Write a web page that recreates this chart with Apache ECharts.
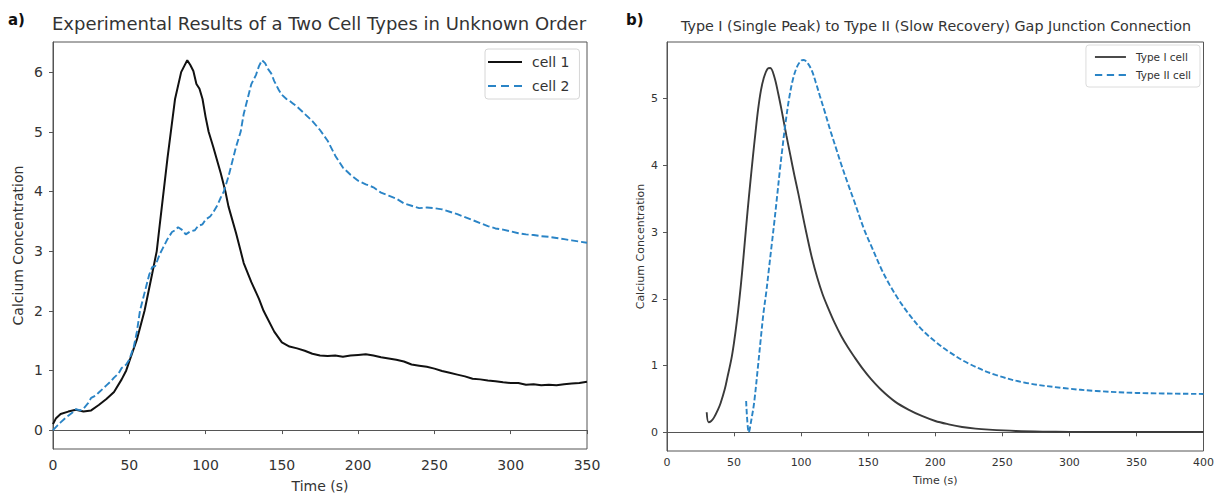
<!DOCTYPE html>
<html>
<head>
<meta charset="utf-8">
<script src="https://cdn.jsdelivr.net/npm/echarts@6/dist/echarts.min.js"></script>
<style>
html,body{margin:0;padding:0;background:#fff;}
#chart{width:1217px;height:498px;}
</style>
</head>
<body>
<div id="chart"></div>
<script>
// ---------- Panel a: experimental data ----------
var timeCell1 = [0,2,5,10,15,20,25,30,35,40,45,48,50,55,60,65,68,70,75,80,84,86,88,90,92,94,96,98,100,102,105,110,113,115,120,123,125,130,135,138,140,145,150,155,160,165,170,175,180,185,190,195,200,205,210,215,220,225,230,235,240,245,250,255,260,265,270,275,280,285,290,295,300,305,310,315,320,325,330,335,340,345,350];
var cell1 = [0.10,0.20,0.27,0.31,0.34,0.31,0.33,0.42,0.52,0.64,0.85,1.00,1.15,1.52,2.00,2.62,3.00,3.45,4.55,5.55,6.00,6.10,6.20,6.12,6.02,5.80,5.72,5.55,5.25,5.00,4.75,4.30,4.00,3.75,3.30,3.00,2.80,2.48,2.20,2.00,1.90,1.65,1.47,1.40,1.37,1.33,1.28,1.25,1.24,1.25,1.23,1.25,1.26,1.27,1.25,1.22,1.20,1.18,1.15,1.10,1.08,1.06,1.03,0.99,0.96,0.93,0.90,0.86,0.85,0.83,0.82,0.80,0.79,0.79,0.76,0.77,0.75,0.76,0.75,0.77,0.78,0.79,0.81];
var timeCell2 = [0,3,5,8,10,13,15,18,20,23,25,28,30,33,35,38,40,43,45,48,50,53,55,57,60,63,65,67,70,72,75,78,80,82,85,87,90,93,95,98,100,103,105,108,110,112,115,118,120,123,125,128,130,133,135,137,139,141,143,145,148,150,153,155,157,160,165,170,175,180,185,190,195,200,205,210,215,220,225,230,235,240,245,250,255,260,265,270,275,280,285,290,295,300,305,310,315,320,325,330,335,340,345,350];
var cell2 = [0.00,0.08,0.13,0.20,0.24,0.30,0.35,0.33,0.36,0.45,0.54,0.58,0.63,0.70,0.75,0.82,0.88,0.95,1.04,1.10,1.18,1.40,1.65,2.00,2.30,2.60,2.73,2.75,2.95,3.05,3.20,3.32,3.35,3.40,3.35,3.28,3.33,3.35,3.42,3.45,3.53,3.58,3.65,3.78,3.90,4.00,4.25,4.55,4.75,5.00,5.30,5.60,5.80,5.95,6.10,6.20,6.15,6.05,5.98,5.85,5.70,5.62,5.55,5.52,5.48,5.42,5.30,5.18,5.03,4.85,4.60,4.40,4.28,4.18,4.12,4.07,3.98,3.93,3.88,3.80,3.76,3.72,3.73,3.72,3.70,3.66,3.62,3.57,3.52,3.47,3.42,3.38,3.36,3.33,3.30,3.28,3.27,3.25,3.24,3.22,3.20,3.18,3.16,3.14];

// ---------- Panel b: model ----------
var timeType1 = [29.6,31,33,35,38,40,43,45,48,50,52,54,56,58,60,62,64,66,68,70,72,75,77,80,83,86,89,92,95,98,101,104,108,112,116,120,125,130,135,140,146,152,160,170,180,190,200,210,220,230,240,260,280,300,330,360,400];
var type1 = [0.30,0.15,0.17,0.22,0.34,0.44,0.64,0.82,1.10,1.35,1.65,2.00,2.40,2.85,3.30,3.72,4.12,4.50,4.85,5.12,5.30,5.45,5.46,5.33,5.07,4.77,4.45,4.15,3.85,3.57,3.27,2.98,2.62,2.32,2.07,1.87,1.64,1.44,1.27,1.12,0.95,0.80,0.63,0.46,0.34,0.245,0.17,0.12,0.08,0.055,0.04,0.02,0.01,0.006,0.004,0.004,0.006];
var timeType2 = [59,61,63,65,68,70,72,74,76,78,80,82,84,86,88,91,94,97,100,102,105,108,111,114,118,122,126,130,135,140,147,153,160,166,172,180,190,200,210,225,245,268,297,320,350,400];
var type2 = [0.47,0.00,0.20,0.45,1.02,1.42,1.80,2.10,2.45,2.80,3.15,3.52,3.90,4.25,4.58,5.00,5.30,5.48,5.57,5.58,5.53,5.42,5.24,5.04,4.78,4.51,4.26,4.01,3.72,3.44,3.04,2.76,2.44,2.21,2.01,1.78,1.54,1.36,1.21,1.03,0.86,0.74,0.66,0.62,0.59,0.575];

// ---------- ticks / labels ----------
var xTicksA = [0,50,100,150,200,250,300,350];
var yTicksA = [0,1,2,3,4,5,6];
var xTicksB = [0,50,100,150,200,250,300,350,400];
var yTicksB = [0,1,2,3,4,5];
var titleA = 'Experimental Results of a Two Cell Types in Unknown Order';
var titleB = 'Type I (Single Peak) to Type II (Slow Recovery) Gap Junction Connection';
var namesA = ['cell 1','cell 2'];
var namesB = ['Type I cell','Type II cell'];

function pairs(t, v){ return t.map(function(x,i){ return [x, v[i]]; }); }

var FONT = 'DejaVu Sans';
var AX = '#555555';
var TXT = '#333333';
var BLUE = '#2a84c6';
var BLACK = '#111111';
var GRAY = '#3a3a3a';
var SOLID = 'path://M0,0h34v2h-34z';
var DASHED = 'path://M0,0h8v2h-8zM13,0h8v2h-8zM26,0h8v2h-8z';

function xAxisCfg(idx, max, fs, gap, margin){
  return {
    type:'value', gridIndex:idx, min:0, max:max, interval:50,
    name:'Time (s)', nameLocation:'middle', nameGap:gap,
    nameTextStyle:{color:TXT, fontFamily:FONT, fontSize:fs},
    axisLine:{show:true, lineStyle:{color:AX, width:1}},
    axisTick:{show:true, inside:false, length:4, lineStyle:{color:AX}},
    axisLabel:{color:TXT, fontFamily:FONT, fontSize:fs, margin:margin},
    splitLine:{show:false}
  };
}
function yAxisCfg(idx, min, max, ticks, fs, gap, margin){
  return {
    type:'value', gridIndex:idx, min:min, max:max,
    name:'Calcium Concentration', nameLocation:'middle', nameGap:gap,
    nameTextStyle:{color:TXT, fontFamily:FONT, fontSize:fs},
    axisLine:{show:true, lineStyle:{color:AX, width:1}},
    axisTick:{show:true, inside:false, length:4, lineStyle:{color:AX}, customValues:ticks},
    axisLabel:{color:TXT, fontFamily:FONT, fontSize:fs, margin:margin, customValues:ticks},
    splitLine:{show:false}
  };
}

var chart = echarts.init(document.getElementById('chart'), null, {renderer:'svg'});
chart.setOption({
  backgroundColor:'#ffffff',
  animation:false,
  grid:[
    {left:53, top:42, width:534, height:409, show:true, borderColor:AX, borderWidth:1, backgroundColor:'transparent'},
    {left:667, top:42, width:538, height:409, show:true, borderColor:AX, borderWidth:1, backgroundColor:'transparent'}
  ],
  xAxis:[ xAxisCfg(0, 350, 14, 30, 9), xAxisCfg(1, 400, 11, 24, 6) ],
  yAxis:[ yAxisCfg(0, -0.317, 6.505, yTicksA, 14, 28, 10), yAxisCfg(1, -0.28, 5.85, yTicksB, 11, 21, 9) ],
  legend:[
    {
      data:[
        {name:namesA[0], icon:SOLID, itemStyle:{color:BLACK, borderWidth:0}},
        {name:namesA[1], icon:DASHED, itemStyle:{color:BLUE, borderWidth:0}}
      ],
      orient:'vertical', left:485, top:49,
      itemWidth:34, itemHeight:2, itemGap:8, padding:[5,10,5,3],
      borderColor:'#d6d6d6', borderWidth:1, borderRadius:3, backgroundColor:'#fff',
      textStyle:{color:TXT, fontFamily:FONT, fontSize:14, padding:[0,0,0,5], lineHeight:16},
      selectedMode:false
    },
    {
      data:[
        {name:namesB[0], icon:SOLID, itemStyle:{color:GRAY, borderWidth:0}},
        {name:namesB[1], icon:DASHED, itemStyle:{color:BLUE, borderWidth:0}}
      ],
      orient:'vertical', right:17, top:45,
      itemWidth:31, itemHeight:2, itemGap:6, padding:[6,9,6,9],
      borderColor:'#dcdcdc', borderWidth:1, borderRadius:3, backgroundColor:'#fff',
      textStyle:{color:TXT, fontFamily:FONT, fontSize:10.5, padding:[0,0,0,5], lineHeight:12},
      selectedMode:false
    }
  ],
  series:[
    {name:namesA[0], type:'line', xAxisIndex:0, yAxisIndex:0, data:pairs(timeCell1, cell1),
     showSymbol:false, symbol:'none', lineStyle:{color:BLACK, width:2}, itemStyle:{color:BLACK}},
    {name:namesA[1], type:'line', xAxisIndex:0, yAxisIndex:0, data:pairs(timeCell2, cell2),
     showSymbol:false, symbol:'none', lineStyle:{color:BLUE, width:1.9, type:[7,3]}, itemStyle:{color:BLUE}},
    {name:namesB[0], type:'line', xAxisIndex:1, yAxisIndex:1, data:pairs(timeType1, type1), smooth:0.35,
     showSymbol:false, symbol:'none', lineStyle:{color:GRAY, width:1.9}, itemStyle:{color:GRAY}},
    {name:namesB[1], type:'line', xAxisIndex:1, yAxisIndex:1, data:pairs(timeType2, type2), smooth:0.35,
     showSymbol:false, symbol:'none', lineStyle:{color:BLUE, width:1.9, type:[5.5,2.5]}, itemStyle:{color:BLUE}}
  ],
  graphic:[
    {type:'text', left:8, top:12, style:{text:'a)', font:'bold 15px "DejaVu Sans"', fill:'#111'}},
    {type:'text', left:626, top:12, style:{text:'b)', font:'bold 15px "DejaVu Sans"', fill:'#111'}},
    {type:'text', x:319, y:23, style:{text:titleA, font:'18px "DejaVu Sans"', fill:TXT, textAlign:'center', textVerticalAlign:'middle'}},
    {type:'text', x:936, y:26, style:{text:titleB, font:'14.3px "DejaVu Sans"', fill:TXT, textAlign:'center', textVerticalAlign:'middle'}}
  ]
});
</script>
</body>
</html>
